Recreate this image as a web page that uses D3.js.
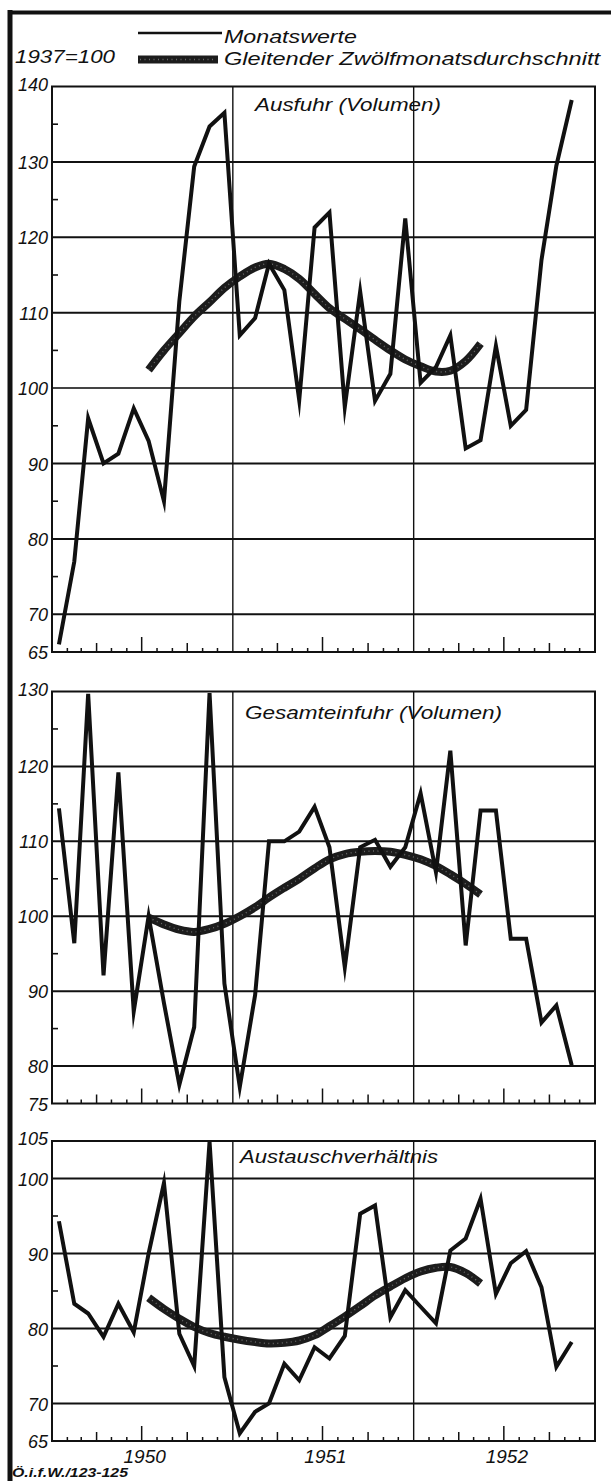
<!DOCTYPE html>
<html><head><meta charset="utf-8">
<script src="https://cdn.jsdelivr.net/npm/d3@7"></script>
<style>
html,body{margin:0;padding:0;background:#fff;}
svg{display:block;}
text{font-family:"Liberation Sans",Arial,sans-serif;font-style:italic;fill:#111;}
</style></head><body>
<svg id="chart" width="611" height="1481"></svg>
<script>
// ---------- DATA ----------
const months = [
 "1950-01","1950-02","1950-03","1950-04","1950-05","1950-06","1950-07","1950-08","1950-09","1950-10","1950-11","1950-12",
 "1951-01","1951-02","1951-03","1951-04","1951-05","1951-06","1951-07","1951-08","1951-09","1951-10","1951-11","1951-12",
 "1952-01","1952-02","1952-03","1952-04","1952-05","1952-06","1952-07","1952-08","1952-09","1952-10","1952-11"];
const yearLabels = ["1950","1951","1952"];
const baseLabel = "1937=100";
const legendLabels = ["Monatswerte","Gleitender Zwölfmonatsdurchschnitt"];
const titles = ["Ausfuhr (Volumen)","Gesamteinfuhr (Volumen)","Austauschverhältnis"];
const sourceLabel = "Ö.i.f.W./123-125";

const ausfuhr = [66,77,96,90,91.3,97.3,93,85,111.5,129.4,134.7,136.5,
 107,109.3,116.5,113,98.4,121.3,123.3,97.5,112.8,98.3,101.9,122.5,
 100.7,102.8,107,92,93.1,105.6,95,97.1,117,129.5,138.2];
const ausfuhrAvg = [null,null,null,null,null,null,102.4,105.0,107.3,109.5,111.4,113.3,
 114.8,116.0,116.5,115.8,114.5,112.5,110.6,109.2,107.8,106.4,105.0,103.8,
 102.9,102.2,102.3,103.6,105.9,null,null,null,null,null,null];

const einfuhr = [114.4,96.4,129.7,92.1,119.2,87.3,100,88.4,77.5,85.2,129.8,91,
 77.2,89.5,110,110,111.3,114.6,109.2,93.2,109.2,110.2,106.6,109.2,
 116.4,105.9,122.1,96.1,114.1,114.1,97,97,85.8,88.1,80.1];
const einfuhrAvg = [null,null,null,null,null,null,99.8,98.9,98.2,97.9,98.3,99.0,
 100.0,101.2,102.5,103.8,105.0,106.4,107.6,108.3,108.6,108.7,108.6,108.2,
 107.6,106.7,105.6,104.3,102.9,null,null,null,null,null,null];

const austausch = [94.3,83.3,82,78.9,83.3,79.5,90,99.4,79.3,75,104.9,73.5,
 66,68.9,70,75.3,73.1,77.5,76,79,95.3,96.4,81.5,85.1,
 82.9,80.7,90.4,92,97.3,84.6,88.7,90.3,85.5,74.9,78.2];
const austauschAvg = [null,null,null,null,null,null,84.1,82.6,81.3,80.2,79.4,78.9,
 78.5,78.2,78.0,78.1,78.4,79.1,80.3,81.6,83.0,84.4,85.6,86.7,
 87.6,88.1,88.2,87.4,86.0,null,null,null,null,null,null];

const tickLabels1 = [65,70,80,90,100,110,120,130,140];
const tickLabels2 = [75,80,90,100,110,120,130];
const tickLabels3 = [65,70,80,90,100,105];

// ---------- LAYOUT ----------
const svg = d3.select("#chart");
const L = 52, R = 595;
const parse = d3.timeParse("%Y-%m");
const x = d3.scaleTime().domain([new Date(1950,0,1), new Date(1953,0,1)]).range([L, R]);
const mid = d => d3.timeDay.offset(parse(d), 14);

const panels = [
  {title:titles[0], vals:ausfuhr, avg:ausfuhrAvg, dom:[65,140], top:86.5, bottom:652, labels:tickLabels1, tx:255, ty:111, tw:186},
  {title:titles[1], vals:einfuhr, avg:einfuhrAvg, dom:[75,130], top:691.5, bottom:1103.5, labels:tickLabels2, tx:245, ty:719, tw:257},
  {title:titles[2], vals:austausch, avg:austauschAvg, dom:[65,105], top:1141, bottom:1441, labels:tickLabels3, tx:240, ty:1163, tw:198}
];

// outer border (top and left)
svg.append("line").attr("x1",8).attr("x2",611).attr("y1",12.5).attr("y2",12.5).attr("stroke","#111").attr("stroke-width",4);
svg.append("line").attr("x1",10).attr("x2",10).attr("y1",10).attr("y2",1481).attr("stroke","#111").attr("stroke-width",5);

function drawAvgStyle(sel){
  // halftone-looking thick line: dark body with faint light speckles
  sel.attr("fill","none").attr("stroke","#1c1c1c").attr("stroke-width",8);
}
function drawAvgSpeckle(sel){
  sel.attr("fill","none").attr("stroke","#8a8a8a").attr("stroke-width",1.4)
     .attr("stroke-dasharray","1 3.5").attr("opacity",0.7);
}

// legend
svg.append("line").attr("x1",138).attr("x2",222).attr("y1",33).attr("y2",33).attr("stroke","#111").attr("stroke-width",2.5);
svg.append("line").attr("x1",138).attr("x2",218).attr("y1",59.5).attr("y2",59.5).call(drawAvgStyle);
svg.append("line").attr("x1",140).attr("x2",216).attr("y1",59.5).attr("y2",59.5).call(drawAvgSpeckle);
svg.append("text").attr("x",224).attr("y",43).attr("font-size",19).attr("textLength",133).attr("lengthAdjust","spacingAndGlyphs").text(legendLabels[0]);
svg.append("text").attr("x",224).attr("y",65).attr("font-size",19).attr("textLength",376).attr("lengthAdjust","spacingAndGlyphs").text(legendLabels[1]);
svg.append("text").attr("x",15).attr("y",63).attr("font-size",19).attr("textLength",100).attr("lengthAdjust","spacingAndGlyphs").text(baseLabel);

const monthTicks = d3.timeMonth.range(new Date(1950,1,1), new Date(1953,0,1));

panels.forEach((p, pi) => {
  const y = d3.scaleLinear().domain(p.dom).range([p.bottom, p.top]);
  const g = svg.append("g");
  // gridlines at multiples of 10
  const grid = d3.range(Math.ceil(p.dom[0]/10)*10, p.dom[1], 10).filter(v => v > p.dom[0] && v < p.dom[1]);
  g.selectAll(".grid").data(grid).enter().append("line")
    .attr("x1",L).attr("x2",R).attr("y1",d=>y(d)).attr("y2",d=>y(d))
    .attr("stroke", d => (pi===0 && d===100) ? "#444" : "#111").attr("stroke-width",2);
  // minor ticks at 5s
  const minor = d3.range(p.dom[0], p.dom[1], 5).filter(v => v % 10 !== 0 && v > p.dom[0]);
  g.selectAll(".minor").data(minor).enter().append("line")
    .attr("x1",L).attr("x2",L+6).attr("y1",d=>y(d)).attr("y2",d=>y(d))
    .attr("stroke","#111").attr("stroke-width",1.6);
  // year lines
  [new Date(1951,0,1), new Date(1952,0,1)].forEach(d => {
    g.append("line").attr("x1",x(d)).attr("x2",x(d)).attr("y1",p.top).attr("y2",p.bottom)
      .attr("stroke","#111").attr("stroke-width",1.4);
  });
  // month ticks on bottom
  g.selectAll(".mt").data(monthTicks.filter(d => d.getMonth() !== 0)).enter().append("line")
    .attr("x1",d=>x(d)).attr("x2",d=>x(d)).attr("y1",p.bottom)
    .attr("y2",d => p.bottom - (d.getMonth()===6 ? 15 : (d.getMonth()%3===0 ? 9 : 4)))
    .attr("stroke","#111").attr("stroke-width",1.5);
  // frame
  g.append("rect").attr("x",L).attr("y",p.top).attr("width",R-L).attr("height",p.bottom-p.top)
    .attr("fill","none").attr("stroke","#111").attr("stroke-width",2);
  // y labels
  g.selectAll(".yl").data(p.labels).enter().append("text")
    .attr("x",48).attr("y", d => y(d) + (d===p.dom[1] ? 4 : 7))
    .attr("text-anchor","end").attr("font-size",18).text(d=>d);
  // title
  g.append("text").attr("x",p.tx).attr("y",p.ty).attr("font-size",19)
    .attr("textLength",p.tw).attr("lengthAdjust","spacingAndGlyphs").text(p.title);
  // moving average
  const avgLine = d3.line().defined(d => d.v !== null)
    .x(d => x(mid(d.m))).y(d => y(d.v)).curve(d3.curveCatmullRom.alpha(0.5));
  const avgData = months.map((m,i)=>({m, v:p.avg[i]}));
  g.append("path").datum(avgData).attr("d",avgLine).call(drawAvgStyle);
  g.append("path").datum(avgData).attr("d",avgLine).call(drawAvgSpeckle);
  // monthly values
  const line = d3.line().x(d => x(mid(d.m))).y(d => y(d.v));
  g.append("path").datum(months.map((m,i)=>({m, v:p.vals[i]})))
    .attr("d",line).attr("fill","none").attr("stroke","#111").attr("stroke-width",4)
    .attr("stroke-linejoin","miter").attr("stroke-miterlimit",10);
});

// year labels
svg.selectAll(".year").data(yearLabels).enter().append("text")
  .attr("x", d => x(new Date(+d,6,1)) + 3).attr("y",1463)
  .attr("text-anchor","middle").attr("font-size",19).text(d=>d);

// source
svg.append("text").attr("x",12).attr("y",1477).attr("font-size",13).attr("font-weight","bold")
  .attr("textLength",116).attr("lengthAdjust","spacingAndGlyphs").text(sourceLabel);
</script>
</body></html>
